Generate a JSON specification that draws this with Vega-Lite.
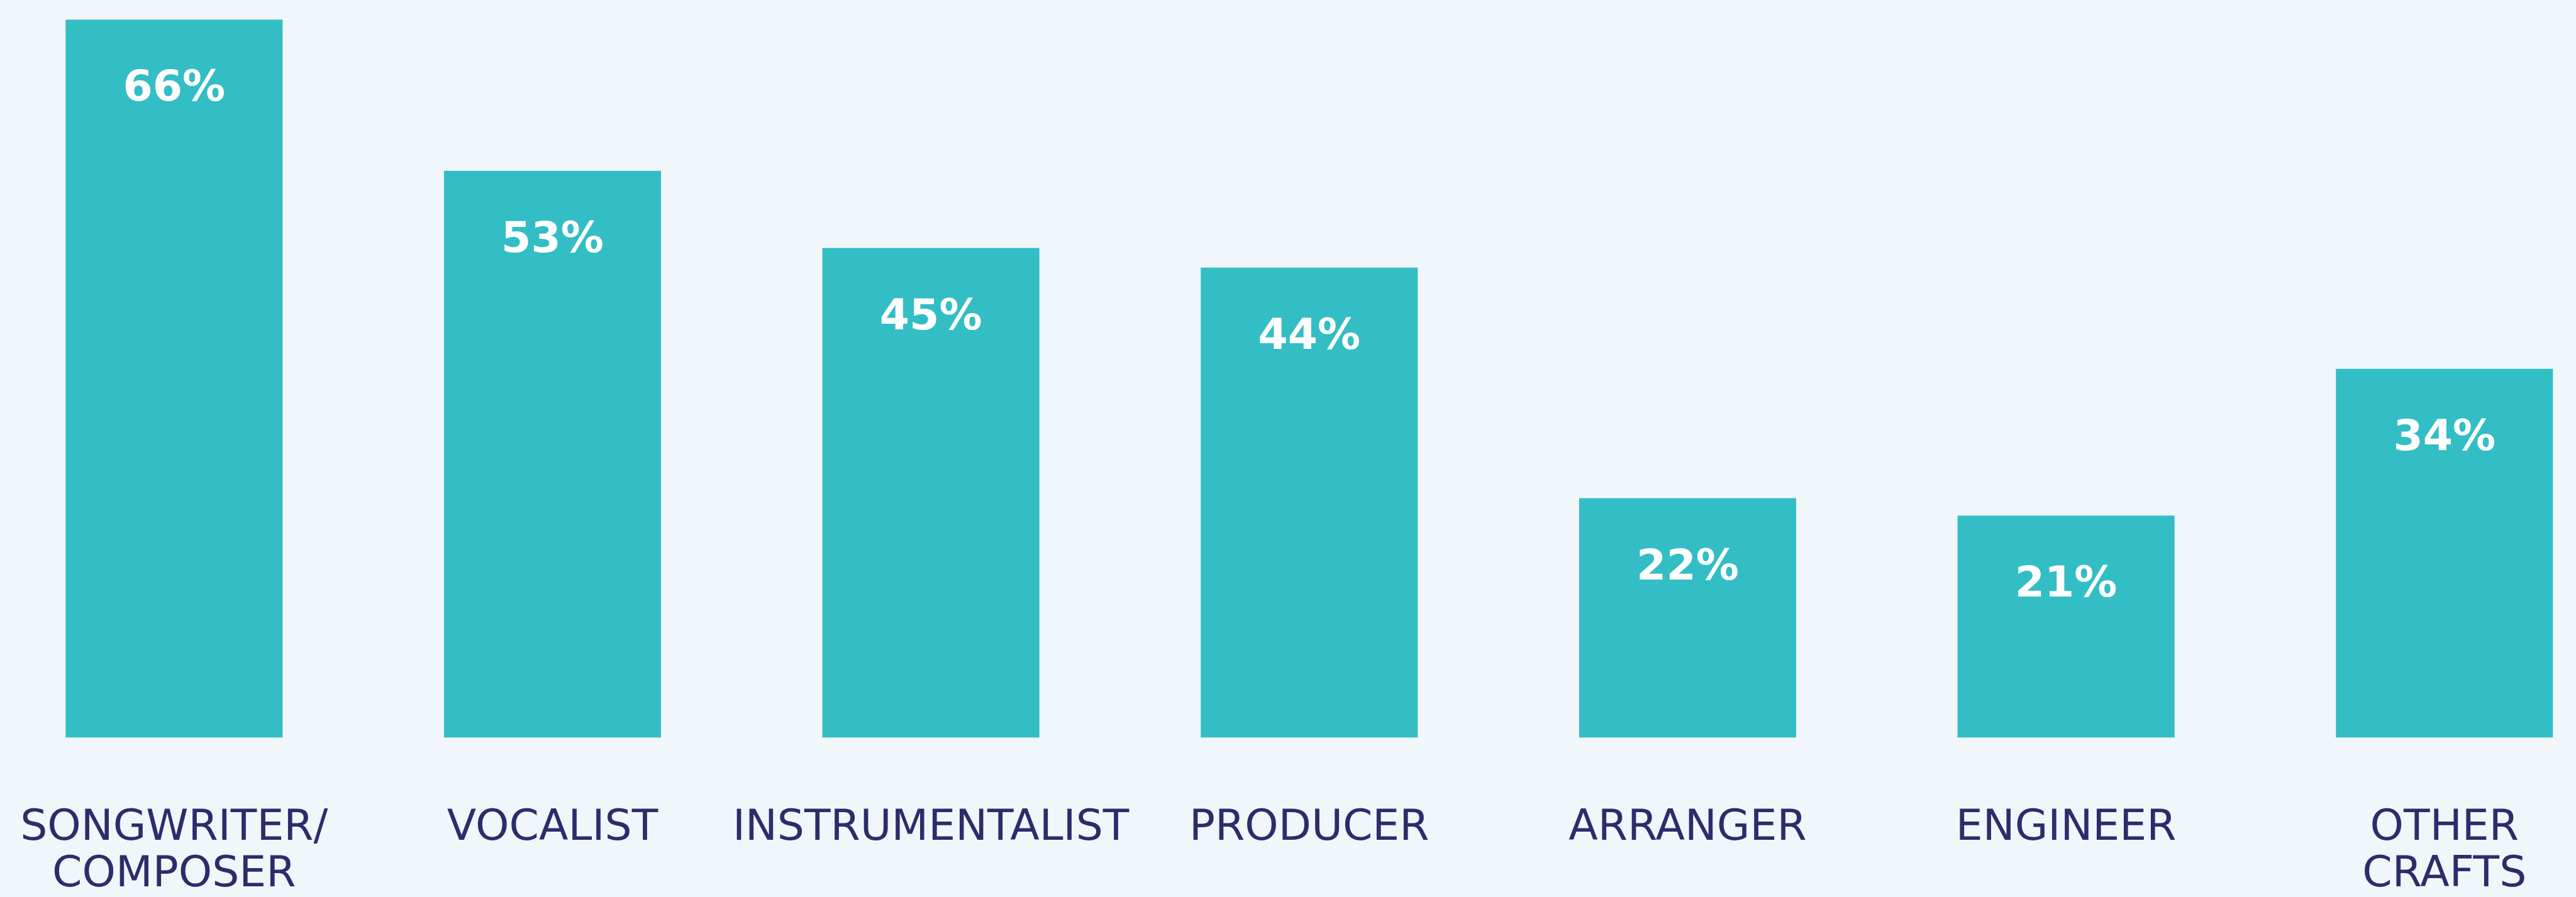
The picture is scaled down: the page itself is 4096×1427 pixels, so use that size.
{
  "$schema": "https://vega.github.io/schema/vega-lite/v6.json",
  "autosize": {"type": "none"},
  "width": 3955,
  "height": 1142,
  "padding": {"left": 104.3, "top": 31.2, "right": 36.8, "bottom": 253.8},
  "background": "#f1f6fa",
  "config": {"view": {"stroke": null}},
  "data": {
    "values": [
      {"role": "SONGWRITER/ COMPOSER", "pct": 66, "label": "66%"},
      {"role": "VOCALIST", "pct": 52.1, "label": "53%"},
      {"role": "INSTRUMENTALIST", "pct": 45.0, "label": "45%"},
      {"role": "PRODUCER", "pct": 43.2, "label": "44%"},
      {"role": "ARRANGER", "pct": 22.0, "label": "22%"},
      {"role": "ENGINEER", "pct": 20.4, "label": "21%"},
      {"role": "OTHER CRAFTS", "pct": 33.9, "label": "34%"}
    ]
  },
  "encoding": {
    "x": {
      "field": "role",
      "type": "nominal",
      "sort": null,
      "scale": {"paddingInner": 0.4265, "paddingOuter": 0},
      "axis": {
        "title": null,
        "domain": false,
        "ticks": false,
        "grid": false,
        "labelAngle": 0,
        "labelFont": "DejaVu Sans",
        "labelFontSize": 68,
        "labelColor": "#2b2d6b",
        "labelBaseline": "alphabetic",
        "labelPadding": 162,
        "labelLineHeight": 74,
        "labelLimit": 0,
        "labelExpr": "split(datum.label, ' ')"
      }
    },
    "y": {
      "field": "pct",
      "type": "quantitative",
      "scale": {"domain": [0, 66], "nice": false, "zero": true},
      "axis": null
    }
  },
  "layer": [
    {"mark": {"type": "bar", "color": "#32bec4"}},
    {
      "mark": {
        "type": "text",
        "color": "#ffffff",
        "font": "DejaVu Sans",
        "fontWeight": "bold",
        "fontSize": 68,
        "baseline": "alphabetic",
        "align": "center",
        "dy": 129
      },
      "encoding": {"text": {"field": "label"}}
    }
  ]
}
